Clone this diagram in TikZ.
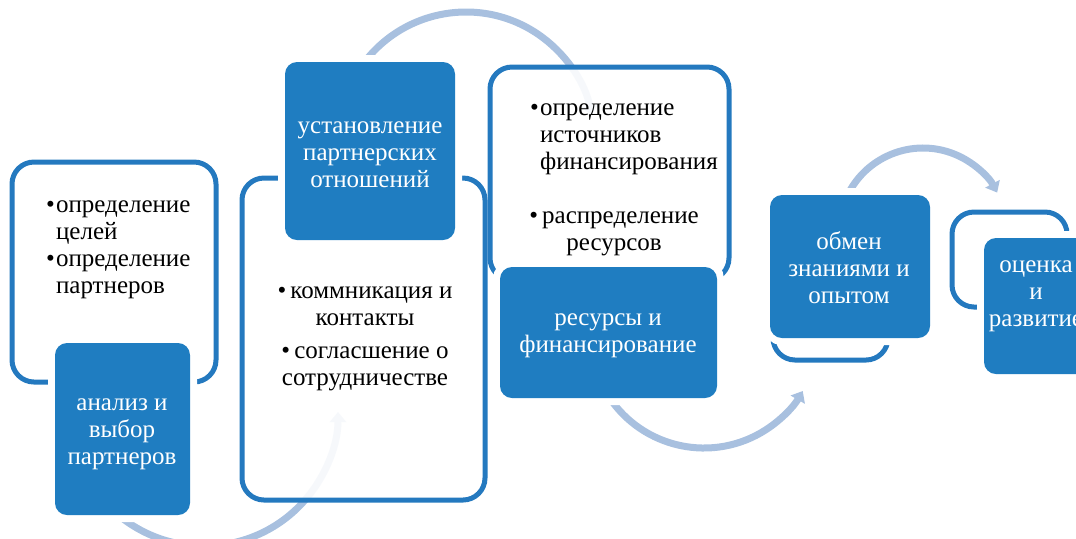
\documentclass[tikz,border=0pt]{standalone}
\usepackage{fontspec}
\setmainfont{Liberation Serif}
\usepackage{tikz}
\usetikzlibrary{arrows.meta}

\definecolor{stagecol}{RGB}{31,125,193}
\definecolor{framecol}{RGB}{36,121,191}
\definecolor{flowcol}{RGB}{168,192,223}

\newcommand{\bul}{\makebox[5pt][l]{\textbullet}}
\newcommand{\ind}{\hspace*{5pt}}

\begin{document}
\begin{tikzpicture}[x=0.5pt,y=-0.5pt,
    every node/.style={font=\fontsize{12.5}{13.5}\selectfont},
    frame/.style={draw=framecol, line width=2.5pt, rounded corners=11pt,
        fill=white, fill opacity=0.9, inner sep=0pt},
    stage/.style={fill=stagecol, text=white, rounded corners=6pt, align=center,
        inner sep=0pt, preaction={draw=white, line width=7pt}},
    flow/.style={draw=flowcol, line width=3.5pt, -{Triangle[length=5pt,width=8pt]}}]

    \useasboundingbox (0,0) rectangle (1076,538);

    % arrow start points
    \coordinate (a1) at ({204+134*cos(130)},{412+134*sin(130)});
    \coordinate (a2) at ({466+128*cos(-143)},{140+128*sin(-143)});
    \coordinate (a3) at ({704+114*cos(147)},{334+114*sin(147)});
    \coordinate (a4) at ({923+84*cos(-152)},{232+84*sin(-152)});

    % draw arrows
    \draw[flow] (a1) arc[start angle=130, end angle=0, radius=134];
    \draw[flow] (a2) arc[start angle=-143, end angle=-11, radius=128];
    \draw[flow] (a3) arc[start angle=147, end angle=30, radius=114];
    \draw[flow] (a4) arc[start angle=-152, end angle=-28, radius=84];

    % draw outline boxes
    \node[frame, minimum width=102pt, minimum height=110pt] (o1) at (114,272) {};
    \node[frame, minimum width=121.5pt, minimum height=161pt] (o2) at (363.5,339) {};
    \node[frame, minimum width=119.5pt, minimum height=106.5pt] (o3) at (609.5,173.5) {};
    \node[frame, minimum width=57.5pt, minimum height=72.5pt] (o4) at (830.5,287.5) {};
    \node[frame, minimum width=57.5pt, minimum height=47.5pt] (o5) at (1009.5,259.5) {};

    % draw bullet texts
    \node[anchor=west, align=left] (t1) at (39,250)
        {\bul определение\\\ind целей\\\bul определение\\\ind партнеров};
    \node[align=center] (t2) at (365,339)
        {\textbullet\,коммникация и\\контакты\\[3pt]\textbullet\,согласшение о\\сотрудничестве};
    \node[anchor=west, align=left] (t3a) at (523,139)
        {\bul определение\\\ind источников\\\ind финансирования};
    \node[align=center] (t3b) at (614,234)
        {\textbullet\,распределение\\ресурсов};

    % draw filled boxes
    \node[stage, minimum width=67.5pt, minimum height=86pt] (f1) at (122.5,429) {};
    \node[stage, minimum width=85pt, minimum height=89pt] (f2) at (370,151) {};
    \node[stage, minimum width=108.5pt, minimum height=65.5pt] (f3) at (608.5,332.5) {};
    \node[stage, minimum width=80pt, minimum height=71.5pt] (f4) at (850,266.5) {};
    \node[stage, minimum width=52pt, minimum height=68pt] (f5) at (1036,306) {};

    % draw stage names
    \node[text=white, align=center] (f1text) at (122,434) {анализ и\\выбор\\партнеров};
    \node[text=white, align=center] (f2text) at (370,155) {установление\\партнерских\\отношений};
    \node[text=white, align=center] (f3text) at (608,336) {ресурсы и\\финансирование};
    \node[text=white, align=center] (f4text) at (849,268) {обмен\\знаниями и\\опытом};
    \node[text=white, align=center] (f5text) at (1036,296) {оценка\\и\\развитие};

\end{tikzpicture}
\end{document}
